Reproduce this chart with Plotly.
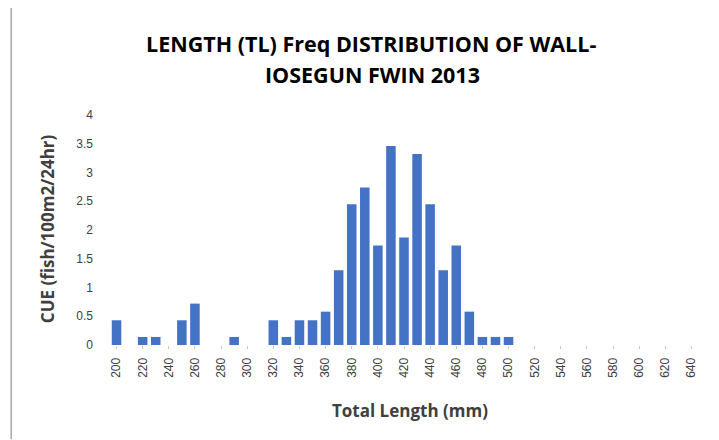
import plotly.graph_objects as go

lengths = list(range(200, 650, 10))
cue = [0.43, 0, 0.14, 0.14, 0, 0.43, 0.72, 0, 0, 0.14,
       0, 0, 0.43, 0.14, 0.43, 0.43, 0.58, 1.30, 2.45, 2.74,
       1.73, 3.46, 1.87, 3.32, 2.45, 1.30, 1.73, 0.58, 0.14, 0.14,
       0.14, 0, 0, 0, 0, 0, 0, 0, 0, 0,
       0, 0, 0, 0, 0]
x_ticks = list(range(200, 650, 20))
y_ticks = [0, 0.5, 1, 1.5, 2, 2.5, 3, 3.5, 4]
title_lines = ["LENGTH (TL) Freq DISTRIBUTION OF WALL-", "IOSEGUN FWIN 2013"]
x_title = "Total Length (mm)"
y_title = "CUE (fish/100m2/24hr)"

font_family = "Open Sans, Lato, sans-serif"
tick_family = "Liberation Sans, Arial, sans-serif"

fig = go.Figure(go.Bar(x=lengths, y=cue, marker=dict(color="#4472C4", line=dict(width=0))))

# page body has an 8px default margin, so the figure is sized to the visible area
fig.update_layout(
    width=711, height=432,
    margin=dict(l=102, r=21, t=107, b=95),
    paper_bgcolor="white", plot_bgcolor="white",
    bargap=0.27,
    showlegend=False,
    font=dict(family=font_family, color="#404040"),
    xaxis=dict(
        range=[195, 645], tickmode="array", tickvals=x_ticks,
        ticktext=[str(v) for v in x_ticks], tickangle=-90,
        tickfont=dict(size=12, color="#404040", family=tick_family),
        showgrid=False, zeroline=False, showline=False,
        ticks="outside", ticklen=3, tickcolor="#c8c8c8",
        ticklabelstandoff=4,
        automargin=False,
    ),
    yaxis=dict(
        range=[0, 4], tickmode="array", tickvals=y_ticks,
        tickfont=dict(size=12, color="#404040", family=tick_family),
        showgrid=False, zeroline=False, showline=False,
        ticks="", ticklabelstandoff=16,
        automargin=False,
    ),
    annotations=[
        dict(text="<b>" + title_lines[0] + "</b>", xref="paper", yref="paper",
             x=0.444, y=1.309, xanchor="center", yanchor="middle", showarrow=False,
             font=dict(size=21.5, color="#000000", family=font_family)),
        dict(text="<b>" + title_lines[1] + "</b>", xref="paper", yref="paper",
             x=0.446, y=1.174, xanchor="center", yanchor="middle", showarrow=False,
             font=dict(size=21.5, color="#000000", family=font_family)),
        dict(text="<b>" + x_title + "</b>", xref="paper", yref="paper",
             x=0.51, y=-0.283, xanchor="center", yanchor="middle", showarrow=False,
             font=dict(size=17, color="#404040", family=font_family)),
        dict(text="<b>" + y_title + "</b>", xref="paper", yref="paper",
             x=-0.107, y=0.504, xanchor="center", yanchor="middle", showarrow=False,
             textangle=-90,
             font=dict(size=17, color="#404040", family=font_family)),
    ],
    shapes=[dict(type="line", xref="paper", yref="paper",
                 x0=-0.168, x1=-0.168, y0=-0.41, y1=1.5,
                 line=dict(color="#a6a6a6", width=1.5))],
)

fig.write_html("out.html")
